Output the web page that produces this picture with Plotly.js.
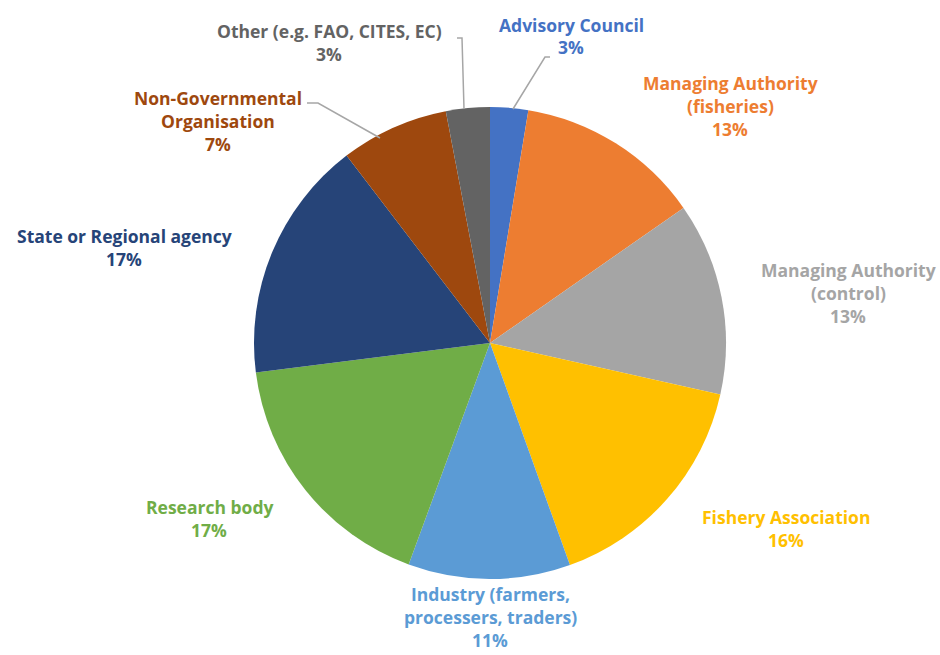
<!DOCTYPE html>
<html>
<head>
<meta charset="utf-8">
<script src="https://cdn.plot.ly/plotly-3.0.1.min.js"></script>
<style>html,body{margin:0;padding:0;background:#fff;}#chart{width:940px;height:655px;}</style>
</head>
<body>
<div id="chart"></div>
<script>
const categories = [
  "Advisory Council",
  "Managing Authority|(fisheries)",
  "Managing Authority|(control)",
  "Fishery Association",
  "Industry (farmers,|processers, traders)",
  "Research body",
  "State or Regional agency",
  "Non-Governmental|Organisation",
  "Other (e.g. FAO, CITES, EC)"
];
const shares = [2.6, 12.7, 13.2, 16.0, 11.1, 17.4, 16.6, 7.4, 3.0];
const colors = ["#4472C4", "#ED7D31", "#A5A5A5", "#FFC000", "#5B9BD5", "#70AD47", "#264478", "#9E480E", "#636363"];

const W = 940, H = 655;
const px = x => x / W, py = y => 1 - y / H;
const total = shares.reduce((a, b) => a + b, 0);

// label block centers (pixel positions) and line spacing
const labelPos = [
  [571, 36], [730, 106], [848, 293], [786, 528], [490, 617],
  [209, 518], [124, 247], [218, 121], [329, 43]
];
const lineGap = 23;

const annotations = [];
categories.forEach((c, i) => {
  const lines = c.split("|").concat([Math.round(shares[i] / total * 100) + "%"]);
  const n = lines.length;
  lines.forEach((t, k) => {
    annotations.push({
      xref: "paper", yref: "paper",
      x: px(labelPos[i][0]),
      y: py(labelPos[i][1] + (k - (n - 1) / 2) * lineGap),
      xanchor: "center", yanchor: "middle",
      text: "<b>" + t + "</b>",
      showarrow: false,
      font: {family: "Open Sans, sans-serif", size: 17.5, color: colors[i]}
    });
  });
});

const leaders = [
  [[457, 38], [462, 38], [464, 109]],
  [[550, 57], [545, 57], [513, 109]],
  [[307, 103], [318, 103], [380, 138]]
];
const shapes = leaders.map(pts => ({
  type: "path", xref: "paper", yref: "paper",
  path: pts.map((p, k) => (k ? "L" : "M") + px(p[0]) + "," + py(p[1])).join(" "),
  line: {color: "#A6A6A6", width: 1.5}
}));

const R = 236, cx = 490, cy = 343;
const data = [{
  type: "pie",
  labels: categories.map(c => c.replace("|", " ")),
  values: shares,
  sort: false,
  direction: "clockwise",
  rotation: 0,
  marker: {colors: colors, line: {width: 0}},
  textinfo: "none",
  hoverinfo: "label+percent",
  showlegend: false,
  domain: {x: [px(cx - R), px(cx + R)], y: [py(cy + R), py(cy - R)]}
}];

const layout = {
  width: W, height: H,
  margin: {l: 0, r: 0, t: 0, b: 0},
  paper_bgcolor: "#fff",
  showlegend: false,
  annotations: annotations,
  shapes: shapes
};

Plotly.newPlot("chart", data, layout, {displayModeBar: false, staticPlot: true});
</script>
</body>
</html>
